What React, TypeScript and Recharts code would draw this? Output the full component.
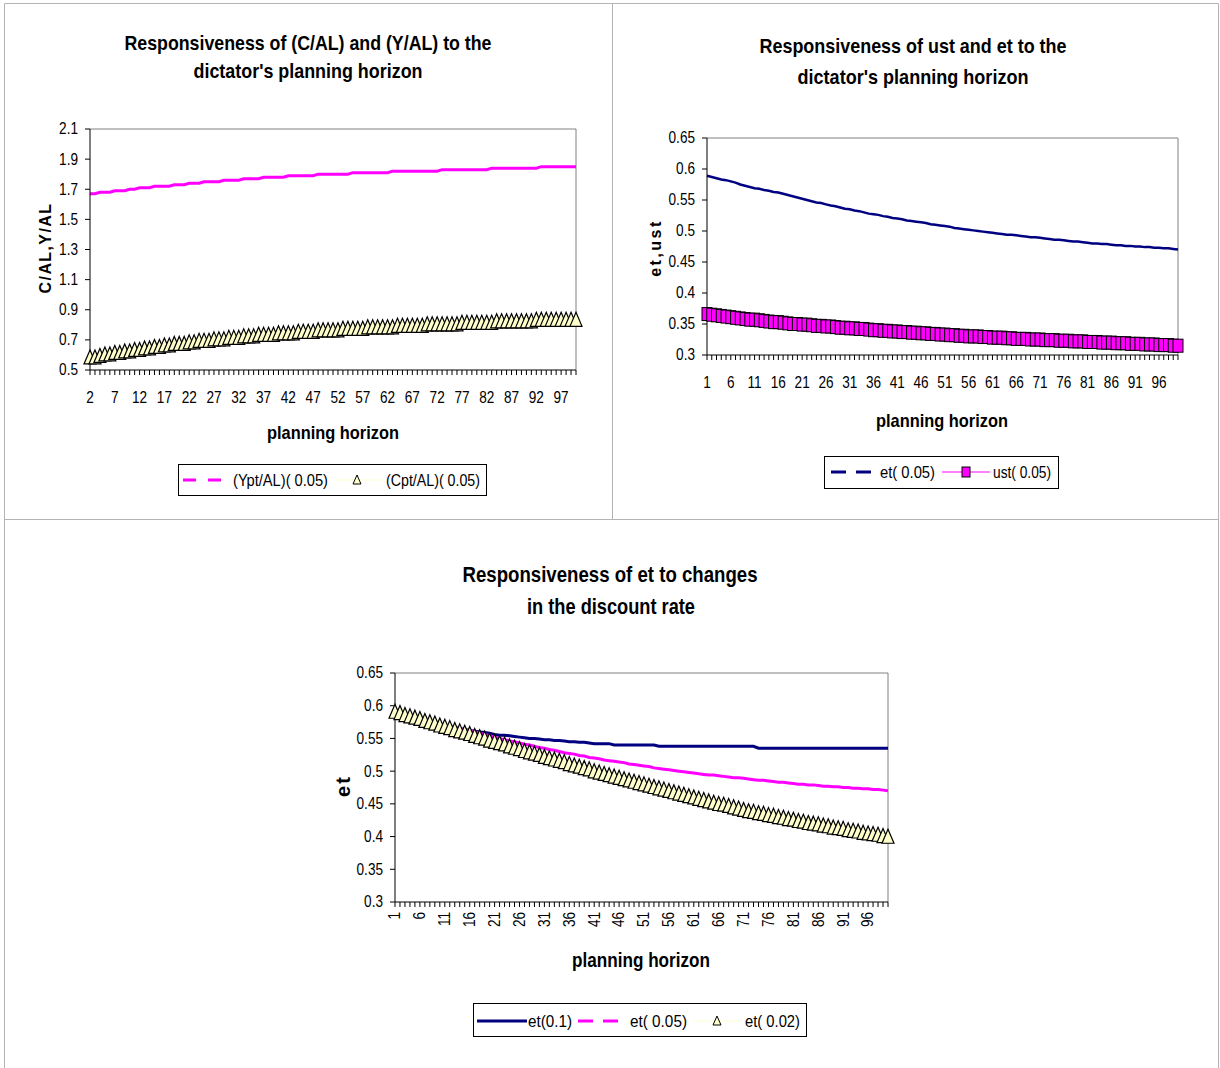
import React from 'react';
import { LineChart, Line, XAxis, YAxis, ReferenceLine } from 'recharts';

const FONT = "'Liberation Sans', Arial, sans-serif";
const NARROW_X = 0.85; // squeeze to look like Arial Narrow

const MAGENTA = '#FF00FF';
const NAVY = '#000080';
const PALE = '#FFFFCC';
const FRAME = '#B4B4B4';
const PLOT_EDGE = '#808080';

// planning horizon (categories)
const horizon = [
  1, 2, 3, 4, 5, 6, 7, 8, 9, 10,
  11, 12, 13, 14, 15, 16, 17, 18, 19, 20,
  21, 22, 23, 24, 25, 26, 27, 28, 29, 30,
  31, 32, 33, 34, 35, 36, 37, 38, 39, 40,
  41, 42, 43, 44, 45, 46, 47, 48, 49, 50,
  51, 52, 53, 54, 55, 56, 57, 58, 59, 60,
  61, 62, 63, 64, 65, 66, 67, 68, 69, 70,
  71, 72, 73, 74, 75, 76, 77, 78, 79, 80,
  81, 82, 83, 84, 85, 86, 87, 88, 89, 90,
  91, 92, 93, 94, 95, 96, 97, 98, 99, 100,
];

// top-left panel, horizon 2..100
const yptAL = [
  1.67, 1.67, 1.68, 1.68, 1.68, 1.69, 1.69, 1.69, 1.70, 1.70,
  1.71, 1.71, 1.71, 1.72, 1.72, 1.72, 1.72, 1.73, 1.73, 1.73,
  1.74, 1.74, 1.74, 1.75, 1.75, 1.75, 1.75, 1.76, 1.76, 1.76,
  1.76, 1.77, 1.77, 1.77, 1.77, 1.78, 1.78, 1.78, 1.78, 1.78,
  1.79, 1.79, 1.79, 1.79, 1.79, 1.79, 1.80, 1.80, 1.80, 1.80,
  1.80, 1.80, 1.80, 1.81, 1.81, 1.81, 1.81, 1.81, 1.81, 1.81,
  1.81, 1.82, 1.82, 1.82, 1.82, 1.82, 1.82, 1.82, 1.82, 1.82,
  1.82, 1.83, 1.83, 1.83, 1.83, 1.83, 1.83, 1.83, 1.83, 1.83,
  1.83, 1.84, 1.84, 1.84, 1.84, 1.84, 1.84, 1.84, 1.84, 1.84,
  1.84, 1.85, 1.85, 1.85, 1.85, 1.85, 1.85, 1.85, 1.85,
];
const cptAL = [
  0.58, 0.58, 0.59, 0.60, 0.60, 0.61, 0.61, 0.62, 0.62, 0.63,
  0.63, 0.64, 0.64, 0.65, 0.65, 0.66, 0.66, 0.67, 0.67, 0.67,
  0.68, 0.68, 0.69, 0.69, 0.69, 0.70, 0.70, 0.70, 0.71, 0.71,
  0.71, 0.72, 0.72, 0.72, 0.73, 0.73, 0.73, 0.73, 0.74, 0.74,
  0.74, 0.74, 0.75, 0.75, 0.75, 0.75, 0.76, 0.76, 0.76, 0.76,
  0.76, 0.77, 0.77, 0.77, 0.77, 0.77, 0.78, 0.78, 0.78, 0.78,
  0.78, 0.78, 0.79, 0.79, 0.79, 0.79, 0.79, 0.79, 0.80, 0.80,
  0.80, 0.80, 0.80, 0.80, 0.80, 0.81, 0.81, 0.81, 0.81, 0.81,
  0.81, 0.81, 0.82, 0.82, 0.82, 0.82, 0.82, 0.82, 0.82, 0.82,
  0.83, 0.83, 0.83, 0.83, 0.83, 0.83, 0.83, 0.83, 0.83,
];

// horizon 1..100
const et05 = [
  0.589, 0.587, 0.585, 0.583, 0.582, 0.580, 0.578, 0.575, 0.573, 0.571,
  0.569, 0.568, 0.566, 0.565, 0.563, 0.562, 0.560, 0.558, 0.556, 0.554,
  0.552, 0.550, 0.548, 0.546, 0.545, 0.543, 0.541, 0.540, 0.538, 0.536,
  0.535, 0.533, 0.532, 0.530, 0.528, 0.527, 0.526, 0.524, 0.523, 0.521,
  0.520, 0.519, 0.517, 0.516, 0.515, 0.514, 0.513, 0.511, 0.510, 0.509,
  0.508, 0.507, 0.505, 0.504, 0.503, 0.502, 0.501, 0.500, 0.499, 0.498,
  0.497, 0.496, 0.495, 0.494, 0.494, 0.493, 0.492, 0.491, 0.490, 0.490,
  0.489, 0.488, 0.487, 0.486, 0.486, 0.485, 0.484, 0.483, 0.483, 0.482,
  0.481, 0.480, 0.480, 0.479, 0.479, 0.478, 0.477, 0.477, 0.476, 0.476,
  0.475, 0.475, 0.474, 0.474, 0.473, 0.473, 0.472, 0.472, 0.471, 0.470,
];
const ust05 = [
  0.366, 0.365, 0.364, 0.363, 0.362, 0.361, 0.360, 0.359, 0.358, 0.357,
  0.357, 0.356, 0.355, 0.354, 0.353, 0.353, 0.352, 0.351, 0.350, 0.350,
  0.349, 0.349, 0.348, 0.347, 0.347, 0.346, 0.346, 0.345, 0.344, 0.344,
  0.343, 0.343, 0.342, 0.342, 0.341, 0.340, 0.340, 0.339, 0.339, 0.338,
  0.338, 0.337, 0.337, 0.336, 0.336, 0.335, 0.335, 0.334, 0.334, 0.333,
  0.333, 0.332, 0.332, 0.331, 0.331, 0.330, 0.330, 0.330, 0.329, 0.329,
  0.328, 0.328, 0.328, 0.327, 0.327, 0.326, 0.326, 0.326, 0.325, 0.325,
  0.325, 0.324, 0.324, 0.324, 0.323, 0.323, 0.323, 0.322, 0.322, 0.322,
  0.321, 0.321, 0.321, 0.320, 0.320, 0.320, 0.319, 0.319, 0.319, 0.318,
  0.318, 0.318, 0.317, 0.317, 0.317, 0.316, 0.316, 0.316, 0.315, 0.315,
];
const et10 = [
  0.589, 0.587, 0.585, 0.583, 0.581, 0.579, 0.577, 0.575, 0.573, 0.571,
  0.569, 0.568, 0.567, 0.565, 0.564, 0.562, 0.561, 0.560, 0.559, 0.558,
  0.556, 0.555, 0.555, 0.554, 0.553, 0.552, 0.551, 0.550, 0.550, 0.549,
  0.548, 0.548, 0.547, 0.547, 0.546, 0.545, 0.545, 0.544, 0.544, 0.543,
  0.542, 0.542, 0.542, 0.542, 0.540, 0.540, 0.540, 0.540, 0.540, 0.540,
  0.540, 0.540, 0.540, 0.538, 0.538, 0.538, 0.538, 0.538, 0.538, 0.538,
  0.538, 0.538, 0.538, 0.538, 0.538, 0.538, 0.538, 0.538, 0.538, 0.538,
  0.538, 0.538, 0.538, 0.535, 0.535, 0.535, 0.535, 0.535, 0.535, 0.535,
  0.535, 0.535, 0.535, 0.535, 0.535, 0.535, 0.535, 0.535, 0.535, 0.535,
  0.535, 0.535, 0.535, 0.535, 0.535, 0.535, 0.535, 0.535, 0.535, 0.535,
];
const et02 = [
  0.590, 0.588, 0.585, 0.583, 0.581, 0.579, 0.576, 0.574, 0.572, 0.569,
  0.567, 0.565, 0.562, 0.560, 0.558, 0.556, 0.553, 0.551, 0.549, 0.546,
  0.544, 0.542, 0.540, 0.537, 0.535, 0.533, 0.530, 0.528, 0.526, 0.524,
  0.521, 0.519, 0.517, 0.515, 0.513, 0.510, 0.508, 0.506, 0.504, 0.502,
  0.499, 0.497, 0.495, 0.493, 0.491, 0.489, 0.487, 0.485, 0.483, 0.481,
  0.479, 0.477, 0.475, 0.473, 0.471, 0.469, 0.467, 0.465, 0.463, 0.461,
  0.459, 0.457, 0.455, 0.453, 0.451, 0.449, 0.448, 0.446, 0.444, 0.442,
  0.440, 0.438, 0.437, 0.435, 0.434, 0.432, 0.431, 0.429, 0.428, 0.426,
  0.425, 0.423, 0.422, 0.420, 0.419, 0.418, 0.416, 0.415, 0.413, 0.412,
  0.411, 0.409, 0.408, 0.407, 0.405, 0.404, 0.403, 0.402, 0.400, 0.399,
];

const ratioTicks = [0.5, 0.7, 0.9, 1.1, 1.3, 1.5, 1.7, 1.9, 2.1];
const shareTicks = [0.3, 0.35, 0.4, 0.45, 0.5, 0.55, 0.6, 0.65];

const ratioData = horizon.slice(1).map((t, i) => ({ t, ypt: yptAL[i], cpt: cptAL[i] }));
const shareData = horizon.map((t, i) => ({ t, et: et05[i], ust: ust05[i] }));
const discountData = horizon.map((t, i) => ({ t, e10: et10[i], e05: et05[i], e02: et02[i] }));

// markers
const TriangleDot = (props: any) => {
  const { cx, cy, index } = props;
  if (cx == null || cy == null) return <g key={`tri-${index}`} />;
  return (
    <path
      key={`tri-${index}`}
      d={`M${cx},${cy - 8}L${cx + 6},${cy + 6}L${cx - 6},${cy + 6}Z`}
      fill={PALE}
      stroke="#000"
      strokeWidth={1.2}
    />
  );
};

const SquareDot = (props: any) => {
  const { cx, cy, index } = props;
  if (cx == null || cy == null) return <g key={`sq-${index}`} />;
  return (
    <rect key={`sq-${index}`} x={cx - 5} y={cy - 6.5} width={10} height={13} fill={MAGENTA} stroke="#000" strokeWidth={1} />
  );
};

// squeezed tick text
const TickText: React.FC<{ x: number; y: number; anchor: string; rotate?: boolean; children: React.ReactNode }> = ({
  x, y, anchor, rotate, children,
}) => (
  <text
    transform={`translate(${x},${y})${rotate ? ' rotate(-90)' : ''} scale(${NARROW_X},1)`}
    textAnchor={anchor}
    dominantBaseline="central"
    fontSize={16}
    fontFamily={FONT}
    fill="#000"
  >
    {children}
  </text>
);

const YTick = (props: any) => (
  <TickText x={props.x} y={props.y} anchor="end">{props.payload.value}</TickText>
);

// every category gets a tick mark, every fifth one a label
const FlatTick = (props: any) => {
  const { x, y, payload, index } = props;
  if (index % 5 !== 0) return <g />;
  return <TickText x={x} y={y + 21} anchor="middle">{payload.value}</TickText>;
};

const UprightTick = (props: any) => {
  const { x, y, payload, index } = props;
  if (index % 5 !== 0) return <g />;
  return <TickText x={x} y={y + 3} anchor="end" rotate>{payload.value}</TickText>;
};

const Label: React.FC<{ x: number; y: number; size: number; children: React.ReactNode; len?: number; rotate?: boolean; spacing?: number }> = ({
  x, y, size, children, len, rotate, spacing,
}) => (
  <text
    x={x}
    y={y}
    textAnchor="middle"
    dominantBaseline="central"
    fontSize={size}
    fontWeight="bold"
    fontFamily={FONT}
    letterSpacing={spacing || 0}
    textLength={len}
    lengthAdjust={len ? 'spacingAndGlyphs' : undefined}
    transform={rotate ? `rotate(-90, ${x}, ${y})` : undefined}
    fill="#000"
  >
    {children}
  </text>
);

const LegendText: React.FC<{ x: number; y: number; len: number; children: React.ReactNode }> = ({ x, y, len, children }) => (
  <text x={x} y={y} dominantBaseline="central" fontSize={16} fontFamily={FONT} fill="#000" textLength={len} lengthAdjust="spacingAndGlyphs">
    {children}
  </text>
);

const legendTri = (cx: number, cy: number) => (
  <path d={`M${cx},${cy - 5}L${cx + 4},${cy + 4}L${cx - 4},${cy + 4}Z`} fill={PALE} stroke="#000" strokeWidth={1} />
);

const axisStroke = { stroke: '#000' };

export default function App() {
  return (
    <div style={{ position: 'absolute', left: 0, top: 0, width: 1220, height: 1068, background: '#fff', overflow: 'hidden' }}>
      {/* top-left: C/AL and Y/AL */}
      <div style={{ position: 'absolute', left: 0, top: 0 }}>
        <LineChart width={612} height={519} data={ratioData} margin={{ top: 129, right: 36, left: 0, bottom: 0 }}>
          <XAxis dataKey="t" interval={0} height={149} tick={FlatTick} tickSize={5} axisLine={axisStroke} tickLine={axisStroke} />
          <YAxis
            width={90}
            domain={[0.5, 2.1]}
            ticks={ratioTicks}
            interval={0}
            tick={YTick}
            tickSize={5}
            tickMargin={7}
            axisLine={axisStroke}
            tickLine={axisStroke}
          />
          <ReferenceLine y={2.1} stroke={PLOT_EDGE} />
          <ReferenceLine x={100} stroke={PLOT_EDGE} />
          <Line dataKey="ypt" stroke={MAGENTA} strokeWidth={3} dot={false} isAnimationActive={false} />
          <Line dataKey="cpt" stroke={PALE} strokeWidth={1} dot={TriangleDot} isAnimationActive={false} />
        </LineChart>
      </div>

      {/* top-right: ust and et */}
      <div style={{ position: 'absolute', left: 612, top: 0 }}>
        <LineChart width={606} height={519} data={shareData} margin={{ top: 138, right: 40, left: 0, bottom: 0 }}>
          <XAxis dataKey="t" interval={0} height={164} tick={FlatTick} tickSize={5} axisLine={axisStroke} tickLine={axisStroke} />
          <YAxis
            width={95}
            domain={[0.3, 0.65]}
            ticks={shareTicks}
            interval={0}
            tick={YTick}
            tickSize={5}
            tickMargin={7}
            axisLine={axisStroke}
            tickLine={axisStroke}
          />
          <ReferenceLine y={0.65} stroke={PLOT_EDGE} />
          <ReferenceLine x={100} stroke={PLOT_EDGE} />
          <Line dataKey="et" stroke={NAVY} strokeWidth={2.5} dot={false} isAnimationActive={false} />
          <Line dataKey="ust" stroke={MAGENTA} strokeWidth={1} dot={SquareDot} isAnimationActive={false} />
        </LineChart>
      </div>

      {/* bottom: et for three discount rates */}
      <div style={{ position: 'absolute', left: 300, top: 519 }}>
        <LineChart width={620} height={549} data={discountData} margin={{ top: 154, right: 32, left: 0, bottom: 0 }}>
          <XAxis dataKey="t" interval={0} height={166} tick={UprightTick} tickSize={5} axisLine={axisStroke} tickLine={axisStroke} />
          <YAxis
            width={95}
            domain={[0.3, 0.65]}
            ticks={shareTicks}
            interval={0}
            tick={YTick}
            tickSize={5}
            tickMargin={7}
            axisLine={axisStroke}
            tickLine={axisStroke}
          />
          <ReferenceLine y={0.65} stroke={PLOT_EDGE} />
          <ReferenceLine x={100} stroke={PLOT_EDGE} />
          <Line dataKey="e10" stroke={NAVY} strokeWidth={3} dot={false} isAnimationActive={false} />
          <Line dataKey="e05" stroke={MAGENTA} strokeWidth={3} dot={false} isAnimationActive={false} />
          <Line dataKey="e02" stroke={PALE} strokeWidth={1} dot={TriangleDot} isAnimationActive={false} />
        </LineChart>
      </div>

      {/* titles, axis titles, legends and panel frame */}
      <svg width={1220} height={1068} style={{ position: 'absolute', left: 0, top: 0, pointerEvents: 'none' }}>
        <g stroke={FRAME} strokeWidth={1}>
          <line x1={4.5} y1={3.5} x2={1218.5} y2={3.5} />
          <line x1={4.5} y1={3.5} x2={4.5} y2={1068} />
          <line x1={1218.5} y1={3.5} x2={1218.5} y2={1068} />
          <line x1={612.5} y1={3.5} x2={612.5} y2={519.5} />
          <line x1={4.5} y1={519.5} x2={1218.5} y2={519.5} />
        </g>

        <Label x={308} y={42} size={21} len={367}>Responsiveness of (C/AL) and (Y/AL) to the</Label>
        <Label x={308} y={70} size={21} len={229}>dictator's planning horizon</Label>
        <Label x={913} y={45} size={21} len={307}>Responsiveness of ust and et to the</Label>
        <Label x={913} y={76} size={21} len={231}>dictator's planning horizon</Label>
        <Label x={610} y={574} size={22} len={295}>Responsiveness of et to changes</Label>
        <Label x={611} y={606} size={22} len={168}>in the discount rate</Label>

        <Label x={333} y={432} size={19} len={132}>planning horizon</Label>
        <Label x={942} y={420} size={19} len={132}>planning horizon</Label>
        <Label x={641} y={960} size={20} len={138}>planning horizon</Label>

        <Label x={45} y={248} size={16} rotate spacing={1.4}>C/AL,Y/AL</Label>
        <Label x={655} y={248} size={16} rotate spacing={2.5}>et,ust</Label>
        <Label x={343} y={786} size={20} rotate spacing={2}>et</Label>

        {/* legend: top-left */}
        <rect x={178.5} y={464.5} width={308} height={31} fill="#fff" stroke="#000" />
        <line x1={183} y1={480} x2={223} y2={480} stroke={MAGENTA} strokeWidth={3} strokeDasharray="13 12" />
        <LegendText x={233} y={480} len={95}>(Ypt/AL)( 0.05)</LegendText>
        <line x1={336} y1={480} x2={382} y2={480} stroke={PALE} strokeWidth={1} />
        {legendTri(357, 480)}
        <LegendText x={386} y={480} len={94}>(Cpt/AL)( 0.05)</LegendText>

        {/* legend: top-right */}
        <rect x={824.5} y={456.5} width={234} height={32} fill="#fff" stroke="#000" />
        <line x1={831} y1={472} x2={871} y2={472} stroke={NAVY} strokeWidth={3} strokeDasharray="15 10" />
        <LegendText x={880} y={472} len={55}>et( 0.05)</LegendText>
        <line x1={942} y1={472} x2={990} y2={472} stroke={MAGENTA} strokeWidth={1} />
        <rect x={962} y={467} width={8} height={10} fill={MAGENTA} stroke="#000" />
        <LegendText x={993} y={472} len={58}>ust( 0.05)</LegendText>

        {/* legend: bottom */}
        <rect x={473.5} y={1003.5} width={333} height={33} fill="#fff" stroke="#000" />
        <line x1={477} y1={1021} x2={527} y2={1021} stroke={NAVY} strokeWidth={3} />
        <LegendText x={528} y={1021} len={44}>et(0.1)</LegendText>
        <line x1={578} y1={1021} x2={619} y2={1021} stroke={MAGENTA} strokeWidth={3} strokeDasharray="15 10" />
        <LegendText x={630} y={1021} len={57}>et( 0.05)</LegendText>
        <line x1={693} y1={1021} x2={740} y2={1021} stroke={PALE} strokeWidth={1} />
        {legendTri(717, 1021)}
        <LegendText x={745} y={1021} len={55}>et( 0.02)</LegendText>
      </svg>
    </div>
  );
}
